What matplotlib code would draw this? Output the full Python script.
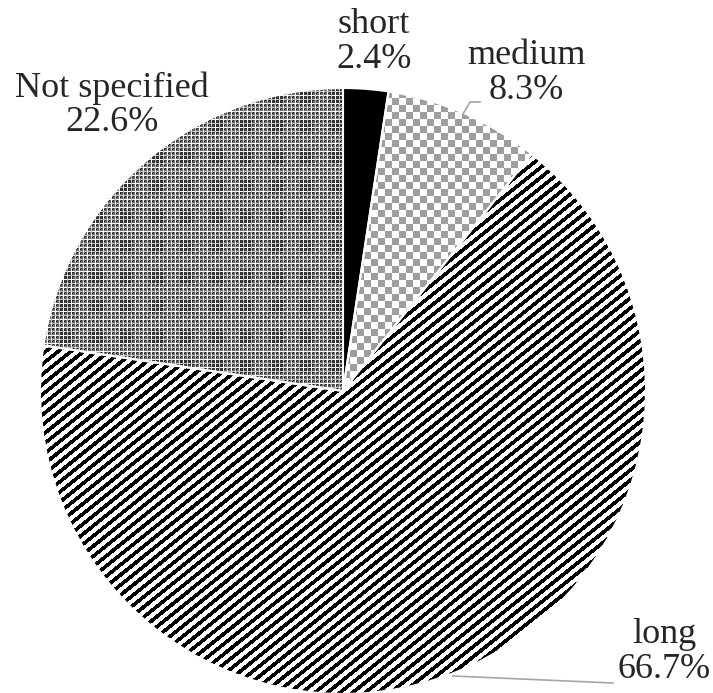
import numpy as np
import matplotlib
matplotlib.use("Agg")
import matplotlib.pyplot as plt

# Share of items by horizon length
labels = ["short", "medium", "long", "Not specified"]
shares = [2.4, 8.3, 66.7, 22.6]
label_xy = [(374, 42), (526, 73), (664, 652), (112, 105)]

W, H = 713, 693
CX, CY, R = 343, 391, 303

plt.rcParams["font.family"] = ["Liberation Serif", "DejaVu Serif"]

fig = plt.figure(figsize=(W / 100, H / 100), dpi=100)
ax = fig.add_axes([0, 0, 1, 1])
ax.set_xlim(0, W)
ax.set_ylim(0, H)
ax.set_aspect("equal")
ax.axis("off")

# pixel grid for the fill textures (row 0 at the top)
X, Y = np.meshgrid(np.arange(W), np.arange(H))


def stripes():
    a = np.deg2rad(38.7)
    v = (X * np.sin(a) + Y * np.cos(a)) % 7.9
    return np.where(v < 3.8, 0.0, 1.0)


def checker():
    c = ((X // 7) + (Y // 7)) % 2
    return np.where(c == 0, 0.62, 1.0)


def weave():
    grid = (X % 4 == 3) | (Y % 4 == 3)
    block = ((X % 30) < 13) & ((Y % 30) < 13)
    cross = ((X + Y) % 4 == 1) & ~grid
    img = np.where(grid, 1.0, 0.42)
    img = np.where(cross, 0.1, img)
    img = np.where(block & ~grid, 0.2, img)
    img = np.where(grid & ((X % 8 == 3) ^ (Y % 8 == 3)), 0.75, img)
    return img


textures = [None, checker(), stripes(), weave()]

wedges, _ = ax.pie(shares, startangle=90, counterclock=False,
                   center=(CX, H - CY), radius=R,
                   colors=["black", "white", "white", "white"],
                   wedgeprops=dict(edgecolor="white", linewidth=1.5))

for w, tex in zip(wedges, textures):
    if tex is None:
        continue
    im = ax.imshow(tex, cmap="gray", vmin=0, vmax=1, extent=(0, W, 0, H),
                   origin="upper", interpolation="nearest", zorder=0.5)
    im.set_clip_path(w)
    w.set_facecolor("none")
    w.set_zorder(1)

ax.set_xlim(0, W)
ax.set_ylim(0, H)

for lab, val, (x, y) in zip(labels, shares, label_xy):
    ax.text(x, H - y, f"{lab}\n{val}%", ha="center", va="center",
            fontsize=26, linespacing=1.05, color="#262626")

# leader lines
ax.plot([463, 470, 480], [H - 114, H - 102, H - 102], color="#a6a6a6", lw=1.2)
ax.plot([453, 613], [H - 676, H - 683], color="#a6a6a6", lw=1.2)

fig.savefig("out.png", dpi=100)
